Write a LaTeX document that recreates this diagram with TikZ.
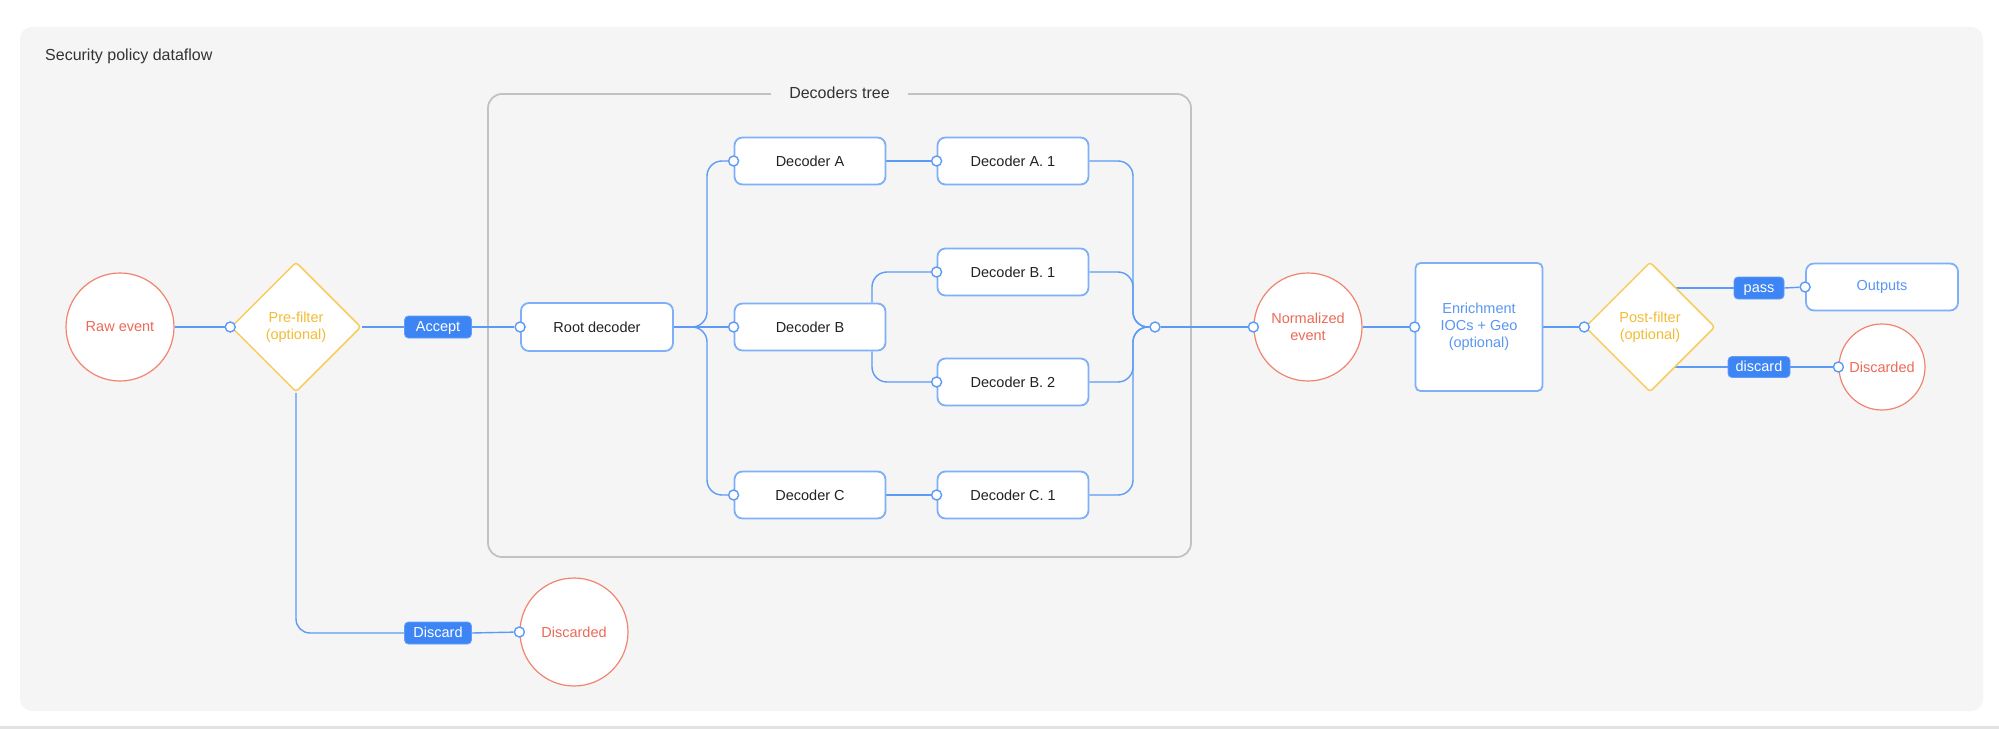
\documentclass[tikz,border=0pt]{standalone}
\usepackage{fontspec}
\setmainfont{Liberation Sans}
\usetikzlibrary{shapes.geometric}
\definecolor{panelgray}{HTML}{F5F5F5}
\definecolor{rulegray}{HTML}{E2E2E2}
\definecolor{containergray}{HTML}{C2C2C2}
\definecolor{lineblue}{HTML}{5B9BF7}
\definecolor{boxblue}{HTML}{7DB0F8}
\definecolor{tagblue}{HTML}{3D85F5}
\definecolor{bluetext}{HTML}{5A96F2}
\definecolor{coralline}{HTML}{F08470}
\definecolor{coraltext}{HTML}{EC6A57}
\definecolor{yelline}{HTML}{F7CD5B}
\definecolor{yeltext}{HTML}{F3BC35}
\definecolor{darktext}{HTML}{222222}
\definecolor{headtext}{HTML}{333333}
\pgfdeclarelayer{back}
\pgfdeclarelayer{mid}
\pgfsetlayers{back,mid,main}
\begin{document}
\begin{tikzpicture}[x=1pt,y={(0pt,-1pt)},
  base/.style={font=\fontsize{14.5}{17}\selectfont, align=center, inner sep=0pt},
  evt/.style={base, circle, draw=coralline, line width=1.2pt, fill=white, text=coraltext, minimum size=108pt},
  filt/.style={base, diamond, aspect=1, draw=yelline, line width=1.5pt, fill=white, text=yeltext, minimum width=130pt, minimum height=130pt, rounded corners=3pt},
  dec/.style={base, rectangle, rounded corners=8pt, draw=boxblue, line width=1.8pt, fill=white, text=darktext, minimum width=151pt, minimum height=47pt},
  tag/.style={base, rectangle, rounded corners=4pt, fill=tagblue, draw=tagblue!80!white, line width=0.8pt, text=white, minimum height=22pt, text height=10.5pt, text depth=1pt},
  port/.style={circle, draw=lineblue, line width=1.4pt, fill=white, minimum size=10pt, inner sep=0pt},
  conn/.style={draw=lineblue, line width=1.4pt},
  heading/.style={font=\fontsize{16}{19}\selectfont, text=headtext, inner sep=0pt}
]
\useasboundingbox (0,0) rectangle (1999,730);
\begin{pgfonlayer}{back}
  \fill[white] (0,0) rectangle (1999,730);
  \fill[panelgray, rounded corners=12pt] (20,27) rectangle (1983,711);
  \fill[rulegray] (0,726) rectangle (1999,729);
  \draw[containergray, line width=1.8pt, rounded corners=14pt] (488,94) rectangle (1191,557);
\end{pgfonlayer}

% headings
\node[heading, anchor=west] (title) at (45,56) {Security policy dataflow};
\node[heading, fill=panelgray, inner xsep=18pt, inner ysep=3pt] (treetitle) at (839.5,93) {Decoders tree};

% left part
\node[evt] (raw) at (120,327) {Raw event};
\node[filt] (pf) at (296,327) {Pre-filter\\(optional)};
\node[port] (pfp) at (pf.west) {};
\node[tag, minimum width=67pt] (accept) at (438,327) {Accept};
\node[dec, minimum width=152pt, minimum height=48pt] (root) at (597,327) {Root decoder};
\node[port] (rootp) at (root.west) {};
\node[tag, minimum width=67pt] (disctag) at (438,633) {Discard};
\node[evt] (disc) at (574,632) {Discarded};
\node[port] (discp) at (disc.west) {};

% decoders tree
\node[dec] (decA) at (810,161) {Decoder A};
\node[port] (decAp) at (decA.west) {};
\node[dec] (decA1) at (1013,161) {Decoder A. 1};
\node[port] (decA1p) at (decA1.west) {};
\node[dec] (decB) at (810,327) {Decoder B};
\node[port] (decBp) at (decB.west) {};
\node[dec] (decB1) at (1013,272) {Decoder B. 1};
\node[port] (decB1p) at (decB1.west) {};
\node[dec] (decB2) at (1013,382) {Decoder B. 2};
\node[port] (decB2p) at (decB2.west) {};
\node[dec] (decC) at (810,495) {Decoder C};
\node[port] (decCp) at (decC.west) {};
\node[dec] (decC1) at (1013,495) {Decoder C. 1};
\node[port] (decC1p) at (decC1.west) {};
\node[port] (mergep) at (1155,327) {};

% right part
\node[evt] (norm) at (1308,327) {Normalized\\event};
\node[port] (normp) at (norm.west) {};
\node[dec, text=bluetext, minimum width=127pt, minimum height=128pt, rounded corners=5pt] (enr) at (1479,327) {Enrichment\\IOCs + Geo\\(optional)};
\node[port] (enrp) at (enr.west) {};
\node[filt] (post) at (1650,327) {Post-filter\\(optional)};
\node[port] (postp) at (post.west) {};
\node[tag, minimum width=50pt] (pass) at (1759,288) {pass};
\node[dec, text=bluetext, minimum width=152pt] (out) at (1882,287) {Outputs};
\node[port] (outp) at (out.west) {};
\node[tag, minimum width=62pt, minimum height=21pt] (dtag) at (1759,367) {discard};
\node[evt, minimum size=86pt] (disc2) at (1882,367) {Discarded};
\node[port] (disc2p) at (disc2.west) {};

\coordinate (splitL) at (707,327);
\coordinate (splitB) at (872,327);
\coordinate (mergeL) at (1133,327);

\begin{pgfonlayer}{mid}
  \draw[conn] (raw.east) -- (pfp);
  \draw[conn] (pf.east) -- (accept.west);
  \draw[conn] (accept.east) -- (rootp);
  \draw[conn, rounded corners=14pt] (pf.south) |- (disctag.west);
  \draw[conn] (disctag.east) -- (discp);
  \draw[conn, rounded corners=15pt] (root.east) -- (splitL) |- (decAp);
  \draw[conn] (root.east) -- (decBp);
  \draw[conn, rounded corners=15pt] (root.east) -- (splitL) |- (decCp);
  \draw[conn] (decA.east) -- (decA1p);
  \draw[conn] (decC.east) -- (decC1p);
  \draw[conn, rounded corners=15pt] (splitB |- decB.north) |- (decB1p);
  \draw[conn, rounded corners=15pt] (splitB |- decB.south) |- (decB2p);
  \draw[conn, rounded corners=15pt] (decA1.east) -| (mergeL) -- (mergep);
  \draw[conn, rounded corners=15pt] (decB1.east) -| (mergeL) -- (mergep);
  \draw[conn, rounded corners=15pt] (decB2.east) -| (mergeL) -- (mergep);
  \draw[conn, rounded corners=15pt] (decC1.east) -| (mergeL) -- (mergep);
  \draw[conn] (mergep) -- (normp);
  \draw[conn] (norm.east) -- (enrp);
  \draw[conn] (enr.east) -- (postp);
  \draw[conn] (post.center |- pass.west) -- (pass.west);
  \draw[conn] (pass.east) -- (outp);
  \draw[conn] (post.center |- dtag.west) -- (dtag.west);
  \draw[conn] (dtag.east) -- (disc2p);
\end{pgfonlayer}
\end{tikzpicture}
\end{document}
